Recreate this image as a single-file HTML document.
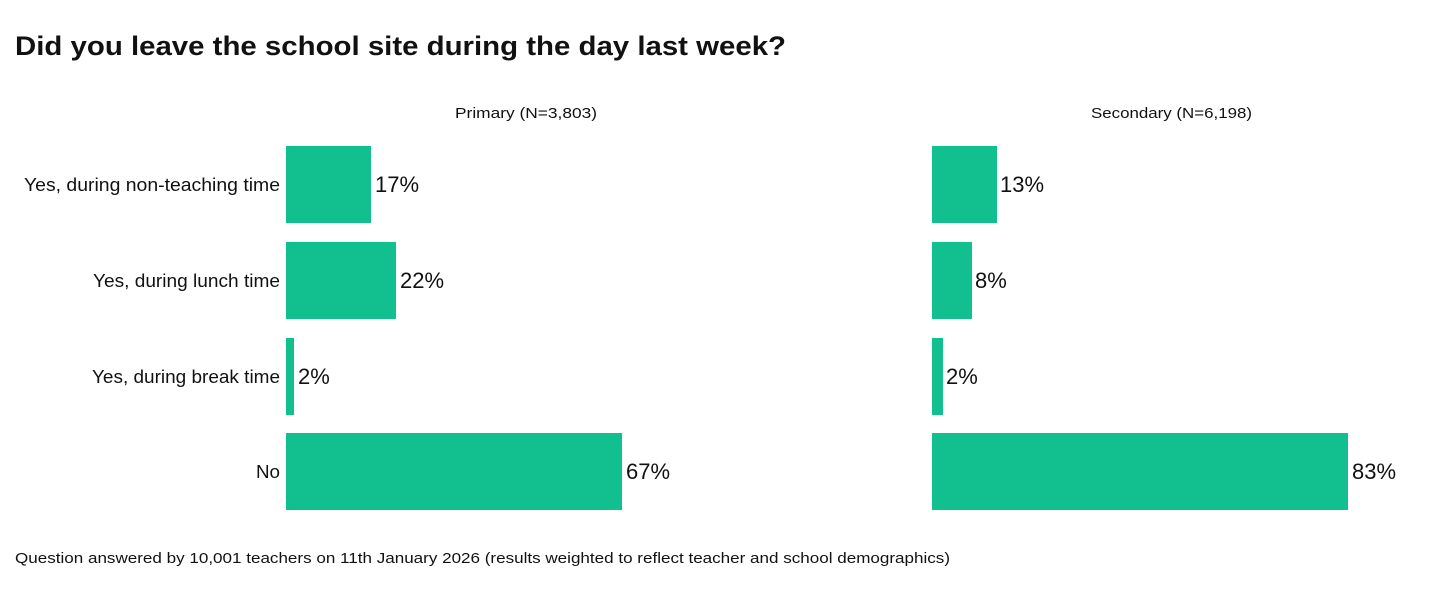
<!DOCTYPE html>
<html><head><meta charset="utf-8"><style>
html,body{margin:0;padding:0;background:#fff;width:1440px;height:600px;overflow:hidden}
text{font-family:"Liberation Sans",sans-serif;fill:#111}
</style></head><body>
<svg width="1440" height="600" xmlns="http://www.w3.org/2000/svg">
<text x="15" y="55" font-size="27" font-weight="bold" textLength="771" lengthAdjust="spacingAndGlyphs">Did you leave the school site during the day last week?</text>
<text x="455" y="118" font-size="15" textLength="142" lengthAdjust="spacingAndGlyphs">Primary (N=3,803)</text>
<text x="1091" y="118" font-size="15" textLength="161" lengthAdjust="spacingAndGlyphs">Secondary (N=6,198)</text>
<g font-size="18">
<text x="24" y="191" textLength="256" lengthAdjust="spacingAndGlyphs">Yes, during non-teaching time</text>
<text x="93" y="287" textLength="187" lengthAdjust="spacingAndGlyphs">Yes, during lunch time</text>
<text x="92" y="383" textLength="188" lengthAdjust="spacingAndGlyphs">Yes, during break time</text>
<text x="256" y="478" textLength="24" lengthAdjust="spacingAndGlyphs">No</text>
</g>
<g fill="#12BF8F">
<rect x="286" y="146" width="85" height="77"/>
<rect x="286" y="242" width="110" height="77"/>
<rect x="286" y="338" width="8" height="77"/>
<rect x="286" y="433" width="336" height="77"/>
<rect x="932" y="146" width="65" height="77"/>
<rect x="932" y="242" width="40" height="77"/>
<rect x="932" y="338" width="11" height="77"/>
<rect x="932" y="433" width="416" height="77"/>
</g>
<g font-size="22">
<text x="375" y="192">17%</text>
<text x="400" y="288">22%</text>
<text x="298" y="384">2%</text>
<text x="626" y="479">67%</text>
<text x="1000" y="192">13%</text>
<text x="975" y="288">8%</text>
<text x="946" y="384">2%</text>
<text x="1352" y="479">83%</text>
</g>
<text x="15" y="563" font-size="15" textLength="935" lengthAdjust="spacingAndGlyphs">Question answered by 10,001 teachers on 11th January 2026 (results weighted to reflect teacher and school demographics)</text>
</svg>
</body></html>
